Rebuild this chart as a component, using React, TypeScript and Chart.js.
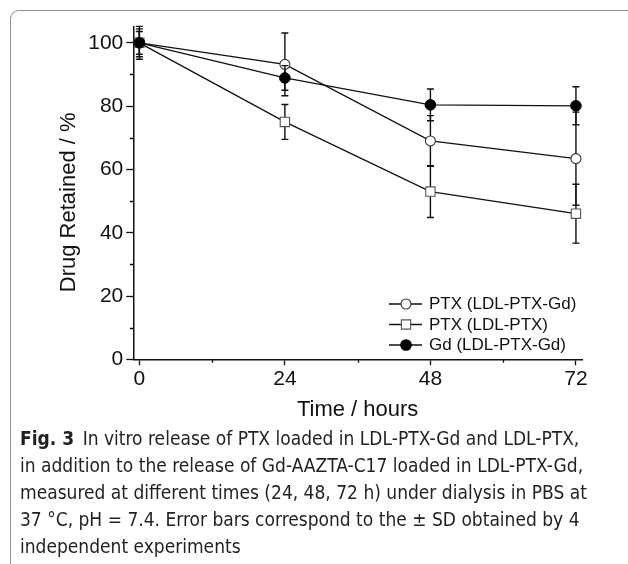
import React, { useEffect, useRef } from "react";
import { Chart, registerables } from "chart.js";

Chart.register(...registerables);

// ---- data ----
const hours = [0, 24, 48, 72];
const ptxGdValues = [100, 93.2, 69.0, 63.4];
const ptxGdSD = [4.4, 9.9, 8.0, 14.7];
const ptxValues = [100, 75.0, 53.0, 46.0];
const ptxSD = [5.2, 5.5, 8.2, 9.3];
const gdValues = [100, 88.9, 80.4, 80.1];
const gdSD = [3.6, 3.9, 5.0, 6.0];

const xTicks = [0, 24, 48, 72];
const xMinorTicks = [12, 36, 60];
const yTicks = [0, 20, 40, 60, 80, 100];
const yMinorTicks = [10, 30, 50, 70, 90];

const seriesLabels = ["PTX (LDL-PTX-Gd)", "PTX (LDL-PTX)", "Gd (LDL-PTX-Gd)"];
const xTitle = "Time / hours";
const yTitle = "Drug Retained / %";

const captionLines = [
  "In vitro release of PTX loaded in LDL-PTX-Gd and LDL-PTX,",
  "in addition to the release of Gd-AAZTA-C17 loaded in LDL-PTX-Gd,",
  "measured at different times (24, 48, 72 h) under dialysis in PBS at",
  "37 °C, pH = 7.4. Error bars correspond to the ± SD obtained by 4",
  "independent experiments",
];

const FONT = "'Liberation Sans', Arial, Helvetica, sans-serif";
const INK = "#111";

const toPoints = (vals: number[]) => hours.map((h, i) => ({ x: h, y: vals[i] }));

const errorBarPlugin = {
  id: "errorBars",
  beforeDatasetDraw(chart: any, args: any) {
    const ds = chart.data.datasets[args.index];
    const sd: number[] | undefined = ds.sd;
    if (!sd) return;
    const xs = chart.scales.x;
    const ys = chart.scales.y;
    const ctx = chart.ctx;
    ctx.save();
    ctx.strokeStyle = INK;
    ctx.lineWidth = 1.4;
    ds.data.forEach((p: any, i: number) => {
      const px = xs.getPixelForValue(p.x);
      const top = ys.getPixelForValue(p.y + sd[i]);
      const bot = ys.getPixelForValue(p.y - sd[i]);
      const cap = 3.5;
      ctx.beginPath();
      ctx.moveTo(px, top);
      ctx.lineTo(px, bot);
      ctx.moveTo(px - cap, top);
      ctx.lineTo(px + cap, top);
      ctx.moveTo(px - cap, bot);
      ctx.lineTo(px + cap, bot);
      ctx.stroke();
    });
    ctx.restore();
  },
};

const minorTickPlugin = {
  id: "minorTicks",
  afterDraw(chart: any) {
    const { ctx, chartArea } = chart;
    const xs = chart.scales.x;
    const ys = chart.scales.y;
    ctx.save();
    ctx.strokeStyle = INK;
    ctx.lineWidth = 1.3;
    ctx.beginPath();
    xMinorTicks.forEach((v) => {
      const px = Math.round(xs.getPixelForValue(v)) + 0.5;
      ctx.moveTo(px, chartArea.bottom);
      ctx.lineTo(px, chartArea.bottom + 3.5);
    });
    yMinorTicks.forEach((v) => {
      const py = Math.round(ys.getPixelForValue(v)) + 0.5;
      ctx.moveTo(chartArea.left - 3.5, py);
      ctx.lineTo(chartArea.left, py);
    });
    ctx.stroke();
    ctx.restore();
  },
};

function drawMarker(ctx: CanvasRenderingContext2D, style: string, x: number, y: number) {
  ctx.save();
  ctx.lineWidth = 1.1;
  if (style === "openCircle") {
    ctx.fillStyle = "#fff";
    ctx.strokeStyle = "#333";
    ctx.beginPath();
    ctx.arc(x, y, 5, 0, Math.PI * 2);
    ctx.fill();
    ctx.stroke();
  } else if (style === "openSquare") {
    ctx.fillStyle = "#fff";
    ctx.strokeStyle = "#555";
    ctx.beginPath();
    ctx.rect(x - 4.6, y - 4.6, 9.2, 9.2);
    ctx.fill();
    ctx.stroke();
  } else {
    ctx.fillStyle = "#000";
    ctx.strokeStyle = "#000";
    ctx.beginPath();
    ctx.arc(x, y, 5.3, 0, Math.PI * 2);
    ctx.fill();
    ctx.stroke();
  }
  ctx.restore();
}

const legendPlugin = {
  id: "customLegend",
  afterDraw(chart: any) {
    const ctx = chart.ctx;
    const styles = ["openCircle", "openSquare", "filledCircle"];
    const x0 = 389;
    const rows = [304, 324.5, 345];
    ctx.save();
    ctx.font = `17px ${FONT}`;
    ctx.textBaseline = "middle";
    ctx.textAlign = "left";
    ctx.fillStyle = INK;
    seriesLabels.forEach((label, i) => {
      const y = rows[i];
      ctx.strokeStyle = INK;
      ctx.lineWidth = 1.3;
      ctx.beginPath();
      ctx.moveTo(x0, y);
      ctx.lineTo(x0 + 33, y);
      ctx.stroke();
      drawMarker(ctx, styles[i], x0 + 17, y);
      ctx.fillStyle = INK;
      ctx.fillText(label, x0 + 40, y + 0.5);
    });
    ctx.restore();
  },
};

export default function App() {
  const canvasRef = useRef<HTMLCanvasElement | null>(null);

  useEffect(() => {
    if (!canvasRef.current) return;
    Chart.defaults.font.family = FONT;
    Chart.defaults.color = INK;

    const chart = new Chart(canvasRef.current, {
      type: "line",
      data: {
        datasets: [
          {
            label: seriesLabels[0],
            data: toPoints(ptxGdValues),
            sd: ptxGdSD,
            borderColor: INK,
            borderWidth: 1.3,
            pointStyle: "circle",
            pointRadius: 5,
            pointBorderWidth: 1.1,
            pointBackgroundColor: "#fff",
            pointBorderColor: "#333",
            order: 2,
            clip: false,
          } as any,
          {
            label: seriesLabels[1],
            data: toPoints(ptxValues),
            sd: ptxSD,
            borderColor: INK,
            borderWidth: 1.3,
            pointStyle: "rect",
            pointRadius: 6.6,
            pointBorderWidth: 1.1,
            pointBackgroundColor: "#fff",
            pointBorderColor: "#555",
            order: 1,
            clip: false,
          } as any,
          {
            label: seriesLabels[2],
            data: toPoints(gdValues),
            sd: gdSD,
            borderColor: INK,
            borderWidth: 1.3,
            pointStyle: "circle",
            pointRadius: 5.3,
            pointBorderWidth: 1,
            pointBackgroundColor: "#000",
            pointBorderColor: "#000",
            order: 0,
            clip: false,
          } as any,
        ],
      },
      options: {
        responsive: false,
        animation: false,
        devicePixelRatio: 1,
        layout: { padding: { left: 0, top: 27, right: 46, bottom: 0 } },
        plugins: {
          legend: { display: false },
          tooltip: { enabled: false },
        },
        elements: { line: { tension: 0 } },
        scales: {
          x: {
            type: "linear",
            min: -1,
            max: 73,
            afterBuildTicks: (s: any) => {
              s.ticks = xTicks.map((v) => ({ value: v }));
            },
            afterFit: (s: any) => {
              s.height = 70.7;
            },
            ticks: {
              font: { size: 21 },
              color: INK,
              padding: 1.5,
              maxRotation: 0,
              autoSkip: false,
            },
            grid: {
              drawOnChartArea: false,
              drawTicks: true,
              tickLength: 6,
              tickWidth: 1.3,
              tickColor: INK,
            },
            border: { display: true, color: INK, width: 1.5 },
            title: {
              display: true,
              text: xTitle,
              font: { size: 22 },
              color: INK,
              padding: { top: 0, bottom: 6.8 },
            },
          },
          y: {
            type: "linear",
            min: 0,
            max: 105,
            afterBuildTicks: (s: any) => {
              s.ticks = yTicks.map((v) => ({ value: v }));
            },
            afterFit: (s: any) => {
              s.width = 133.3;
            },
            ticks: {
              font: { size: 21 },
              color: INK,
              padding: 3,
              autoSkip: false,
            },
            grid: {
              drawOnChartArea: false,
              drawTicks: true,
              tickLength: 7,
              tickWidth: 1.3,
              tickColor: INK,
            },
            border: { display: true, color: INK, width: 1.5 },
            title: {
              display: true,
              text: yTitle + "   ",
              font: { size: 22 },
              color: INK,
              padding: { top: 55.8, bottom: 0 },
            },
          },
        },
      },
      plugins: [errorBarPlugin, minorTickPlugin, legendPlugin],
    } as any);

    return () => chart.destroy();
  }, []);

  return (
    <div
      style={{
        position: "absolute",
        left: 0,
        top: 0,
        width: 628,
        height: 564,
        overflow: "hidden",
        background: "#fff",
      }}
    >
      <div
        style={{
          position: "absolute",
          left: 10,
          top: 10,
          width: 660,
          height: 620,
          border: "1px solid #8f8f8f",
          borderRadius: 9,
          boxSizing: "border-box",
        }}
      />
      <canvas
        ref={canvasRef}
        width={628}
        height={430}
        style={{ position: "absolute", left: 0, top: 0, width: 628, height: 430 }}
      />
      <div
        style={{
          position: "absolute",
          left: 20,
          top: 425,
          fontFamily: "'Liberation Sans Narrow', 'DejaVu Sans Condensed', 'Liberation Sans', sans-serif",
          fontSize: 19,
          lineHeight: "27px",
          color: "#231f20",
          whiteSpace: "nowrap",
        }}
      >
        {captionLines.map((line, i) => (
          <div key={i}>
            {i === 0 ? (
              <>
                <b>Fig. 3</b>
                {"\u2002"}
              </>
            ) : null}
            {line}
          </div>
        ))}
      </div>
    </div>
  );
}
